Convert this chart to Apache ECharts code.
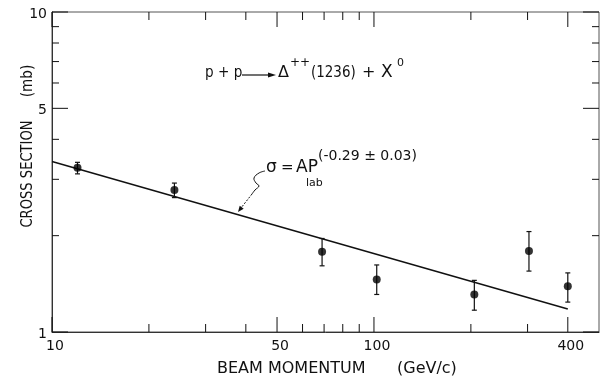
<!DOCTYPE html>
<html>
<head>
<meta charset="utf-8">
<script src="https://cdn.jsdelivr.net/npm/echarts@6/dist/echarts.min.js"></script>
<style>
  html, body { margin: 0; padding: 0; background: #fff; }
  #chart { width: 601px; height: 381px; }
</style>
</head>
<body>
<div id="chart"></div>
<script>
// p + p -> Delta++(1236) + X0 : cross section versus beam momentum
const momentum     = [12, 24, 69, 102, 205, 303, 400];          // GeV/c
const crossSection = [3.26, 2.78, 1.78, 1.46, 1.31, 1.79, 1.39]; // mb
const errLow       = [3.12, 2.63, 1.61, 1.31, 1.17, 1.55, 1.24];
const errHigh      = [3.39, 2.92, 1.96, 1.62, 1.45, 2.06, 1.53];

// power-law fit sigma = A * P^(-0.29)
const fitMomentum = [10, 400];
const fitSigma    = [3.41, 1.18];

const xTicks      = [10, 20, 30, 40, 50, 60, 70, 80, 90, 100, 200, 300, 400];
const xTickLabels = [10, 50, 100, 400];
const yTicks      = [1, 2, 3, 4, 5, 6, 7, 8, 9, 10];
const yTickLabels = [1, 5, 10];

const X_MIN = 10, X_MAX = 500, Y_MIN = 1, Y_MAX = 10;
const INK = '#111';
const FONT = '"DejaVu Sans", sans-serif';

function tickLine(x1, y1, x2, y2) {
  return { type: 'line', shape: { x1, y1, x2, y2 }, style: { stroke: INK, lineWidth: 1 } };
}

// ticks on bottom and top edges, labelled at the major values
function renderXTick(params, api) {
  const v = api.value(0);
  const major = xTickLabels.indexOf(v) >= 0;
  const len = major ? 15 : 8;
  const b = api.coord([v, Y_MIN]);
  const t = api.coord([v, Y_MAX]);
  const children = [
    tickLine(b[0], b[1], b[0], b[1] - len),
    tickLine(t[0], t[1], t[0], t[1] + len)
  ];
  if (major) {
    children.push({
      type: 'text',
      style: { text: String(v), x: b[0] + 3, y: b[1] + 14, align: 'center', verticalAlign: 'middle',
               font: '14px ' + FONT, fill: INK }
    });
  }
  return { type: 'group', children };
}

// ticks on left and right edges
function renderYTick(params, api) {
  const v = api.value(1);
  const major = yTickLabels.indexOf(v) >= 0;
  const len = major ? 16 : 7;
  const l = api.coord([X_MIN, v]);
  const r = api.coord([X_MAX, v]);
  const children = [
    tickLine(l[0], l[1], l[0] + len, l[1]),
    tickLine(r[0], r[1], r[0] - len, r[1])
  ];
  if (major) {
    children.push({
      type: 'text',
      style: { text: String(v), x: l[0] - 5, y: l[1] + 2, align: 'right', verticalAlign: 'middle',
               font: '14px ' + FONT, fill: INK }
    });
  }
  return { type: 'group', children };
}

function renderErrorBar(params, api) {
  const x = api.value(0);
  const lo = api.coord([x, api.value(1)]);
  const hi = api.coord([x, api.value(2)]);
  const cap = 2.5;
  const st = { stroke: INK, lineWidth: 1.2 };
  return {
    type: 'group',
    children: [
      { type: 'line', shape: { x1: lo[0], y1: lo[1], x2: hi[0], y2: hi[1] }, style: st },
      { type: 'line', shape: { x1: lo[0] - cap, y1: lo[1], x2: lo[0] + cap, y2: lo[1] }, style: st },
      { type: 'line', shape: { x1: hi[0] - cap, y1: hi[1], x2: hi[0] + cap, y2: hi[1] }, style: st }
    ]
  };
}

function txt(text, x, y, size, extra) {
  return Object.assign({
    type: 'text', x, y, silent: true,
    style: { text, font: size + 'px ' + FONT, fill: INK, align: 'left', verticalAlign: 'middle' }
  }, extra || {});
}

function vtxt(text, x, y, sx) {
  return {
    type: 'text', x, y, silent: true, rotation: Math.PI / 2, scaleX: sx,
    style: { text, font: '16px ' + FONT, fill: INK, align: 'center', verticalAlign: 'middle' }
  };
}

const chart = echarts.init(document.getElementById('chart'), null, { renderer: 'canvas' });

chart.setOption({
  animation: false,
  backgroundColor: '#fff',
  grid: { left: 52, right: 2, top: 12, bottom: 49, show: true, borderColor: '#555', borderWidth: 1 },
  xAxis: {
    type: 'log', logBase: 10, min: X_MIN, max: X_MAX,
    axisLine: { show: true, lineStyle: { color: '#333', width: 1 } },
    axisTick: { show: false }, axisLabel: { show: false }, splitLine: { show: false }
  },
  yAxis: {
    type: 'log', logBase: 10, min: Y_MIN, max: Y_MAX,
    axisLine: { show: true, lineStyle: { color: '#333', width: 1 } },
    axisTick: { show: false }, axisLabel: { show: false }, splitLine: { show: false }
  },
  series: [
    {
      type: 'custom', name: 'xTicks', silent: true, clip: false,
      data: xTicks.map(v => [v, Y_MIN]),
      renderItem: renderXTick, z: 5
    },
    {
      type: 'custom', name: 'yTicks', silent: true, clip: false,
      data: yTicks.map(v => [X_MIN, v]),
      renderItem: renderYTick, z: 5
    },
    {
      type: 'line', name: 'fit', silent: true,
      data: fitMomentum.map((m, i) => [m, fitSigma[i]]),
      showSymbol: false, symbol: 'none',
      lineStyle: { color: INK, width: 1.5 }, z: 3
    },
    {
      type: 'custom', name: 'errors', silent: true,
      data: momentum.map((m, i) => [m, errLow[i], errHigh[i]]),
      encode: { x: 0, y: [1, 2] },
      renderItem: renderErrorBar, z: 4
    },
    {
      type: 'scatter', name: 'data', silent: true,
      data: momentum.map((m, i) => [m, crossSection[i]]),
      symbol: 'circle', symbolSize: 8,
      itemStyle: { color: '#000' }, z: 6
    }
  ],
  graphic: [
    // axis titles
    txt('BEAM MOMENTUM', 217, 369, 16),
    txt('(GeV/c)', 397, 369, 16),
    vtxt('CROSS SECTION', 28, 174, 0.82),
    vtxt('(mb)', 28, 81, 0.85),

    // reaction
    txt('p + p', 205, 73, 16, { scaleX: 0.85 }),
    { type: 'line', silent: true, shape: { x1: 242, y1: 75, x2: 270, y2: 75 }, style: { stroke: INK, lineWidth: 1.2 } },
    { type: 'polygon', silent: true, shape: { points: [[276, 75], [268, 72.5], [268, 77.5]] }, style: { fill: INK } },
    txt('\u0394', 278, 73, 16),
    txt('++', 290, 63, 12),
    txt('(1236)', 311, 73, 16, { scaleX: 0.84 }),
    txt('+', 362, 73, 16),
    txt('X', 381, 73, 17),
    txt('0', 397, 63, 11),

    // fit formula
    txt('\u03c3', 266, 168, 17),
    txt('=', 281, 168, 15),
    txt('AP', 296, 168, 17),
    txt('lab', 306, 183, 11),
    txt('(-0.29 \u00b1 0.03)', 318, 156, 14),
    {
      type: 'polyline', silent: true,
      shape: { points: [[265, 171], [259, 173], [254, 178], [256, 183], [259, 186], [255, 190], [252, 194]], smooth: 0.4 },
      style: { stroke: INK, lineWidth: 1, fill: null }
    },
    { type: 'line', silent: true, shape: { x1: 252, y1: 194, x2: 241, y2: 208 },
      style: { stroke: INK, lineWidth: 1, lineDash: [2, 1.5] } },
    { type: 'polygon', silent: true, shape: { points: [[238, 212], [243.7, 208.8], [239.7, 205.8]] },
      style: { fill: INK } }
  ]
});
</script>
</body>
</html>
